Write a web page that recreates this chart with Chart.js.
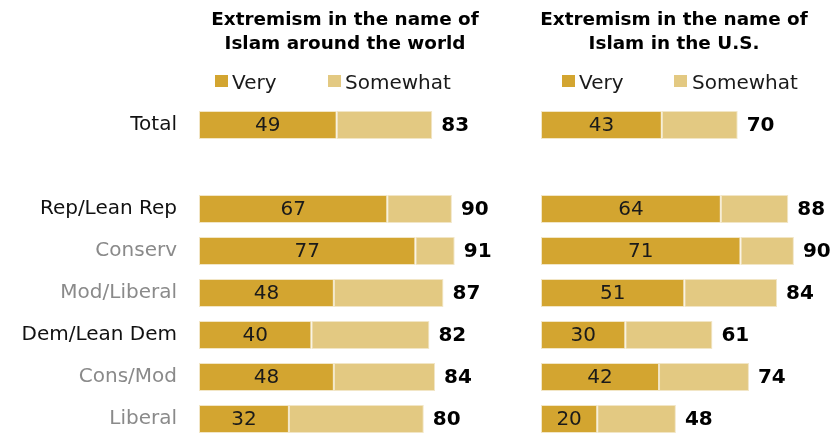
<!DOCTYPE html>
<html>
<head>
<meta charset="utf-8">
<script src="https://cdn.jsdelivr.net/npm/chart.js@4/dist/chart.umd.min.js"></script>
<style>
  html, body { margin: 0; padding: 0; background: #fff; overflow: hidden; }
  body { width: 839px; height: 433px; position: relative; font-family: "DejaVu Sans", sans-serif; }
  .title { position: absolute; top: 7px; width: 340px; margin-left: -170px; text-align: center;
           font: bold 18.4px/24px "DejaVu Sans", sans-serif; color: #000; }
  .sw { position: absolute; top: 75px; width: 13px; height: 12px; }
  .lg { position: absolute; top: 72px; font: 20px/20px "DejaVu Sans", sans-serif; color: #1a1a1a; white-space: nowrap; }
  canvas { position: absolute; top: 0; left: 0; }
</style>
</head>
<body>
<canvas id="world" width="839" height="460"></canvas>
<canvas id="us" width="839" height="460"></canvas>

<div class="title" style="left:345px">Extremism in the name of<br>Islam around the world</div>
<div class="title" style="left:674px">Extremism in the name of<br>Islam in the U.S.</div>

<div class="sw" style="left:215px;background:#D3A530"></div><div class="lg" style="left:232px">Very</div>
<div class="sw" style="left:328px;background:#E3C982"></div><div class="lg" style="left:345px">Somewhat</div>
<div class="sw" style="left:562px;background:#D3A530"></div><div class="lg" style="left:579px">Very</div>
<div class="sw" style="left:674px;background:#E3C982"></div><div class="lg" style="left:692px">Somewhat</div>

<script>
// Groups (blank entry leaves a spacer row under Total)
const categories = ['Total', '', 'Rep/Lean Rep', 'Conserv', 'Mod/Liberal', 'Dem/Lean Dem', 'Cons/Mod', 'Liberal'];
const categoryColors = ['#111', '#111', '#111', '#8a8a8a', '#8a8a8a', '#111', '#8a8a8a', '#8a8a8a'];

// Share concerned about extremism in the name of Islam around the world (%)
const worldVery  = [49, null, 67, 77, 48, 40, 48, 32];
const worldTotal = [83, null, 90, 91, 87, 82, 84, 80];

// Share concerned about extremism in the name of Islam in the U.S. (%)
const usVery  = [43, null, 64, 71, 51, 30, 42, 20];
const usTotal = [70, null, 88, 90, 84, 61, 74, 48];

const VERY_COLOR = '#D3A530';
const SOMEWHAT_COLOR = '#E3C982';
const EDGE_COLOR = '#F2E6C6';
const FONT = '"DejaVu Sans", sans-serif';

// "Somewhat" segment fills the gap between "Very" and the total
function somewhatOf(very, total) {
  return total.map((t, i) => (t == null ? null : t - very[i]));
}

// Draws the "Very" value inside its segment and the bold total past the bar end
const barLabels = {
  id: 'barLabels',
  afterDatasetsDraw(chart, args, opts) {
    const ctx = chart.ctx;
    const xScale = chart.scales.x;
    const veryMeta = chart.getDatasetMeta(0);
    ctx.save();
    ctx.textBaseline = 'middle';
    veryMeta.data.forEach((bar, i) => {
      const v = opts.very[i];
      if (v == null) return;
      ctx.font = '20px ' + FONT;
      ctx.fillStyle = '#1a1a1a';
      ctx.textAlign = 'center';
      ctx.fillText(String(v), (bar.x + bar.base) / 2, bar.y + 1);
      const t = opts.total[i];
      ctx.font = 'bold 20px ' + FONT;
      ctx.fillStyle = '#000';
      ctx.textAlign = 'left';
      ctx.fillText(String(t), xScale.getPixelForValue(t) + 9, bar.y + 1);
    });
    ctx.restore();
  }
};

function makeChart(id, very, total, showCategories, padding) {
  return new Chart(document.getElementById(id), {
    type: 'bar',
    data: {
      labels: categories,
      datasets: [
        { label: 'Very', data: very, backgroundColor: VERY_COLOR },
        { label: 'Somewhat', data: somewhatOf(very, total), backgroundColor: SOMEWHAT_COLOR }
      ]
    },
    options: {
      indexAxis: 'y',
      responsive: false,
      animation: false,
      layout: { padding },
      datasets: {
        bar: {
          categoryPercentage: 1,
          barPercentage: 28 / 42,
          borderWidth: 1,
          borderColor: EDGE_COLOR,
          borderSkipped: false
        }
      },
      scales: {
        x: { stacked: true, min: 0, max: 100, display: false },
        y: {
          stacked: true,
          display: showCategories,
          grid: { display: false, drawTicks: false },
          border: { display: false },
          ticks: {
            padding: 22,
            color: c => categoryColors[c.index],
            font: { family: FONT, size: 20 }
          },
          afterFit(axis) {
            if (!showCategories) return;
            axis.width = 199;
            axis.paddingTop = 0;
            axis.paddingBottom = 0;
          }
        }
      },
      plugins: {
        legend: { display: false },
        tooltip: { enabled: false },
        barLabels: { very, total }
      }
    },
    plugins: [barLabels]
  });
}

// Both canvases span the page; padding places each panel's plot area
makeChart('world', worldVery, worldTotal, true, { top: 104, bottom: 20, left: 0, right: 359 });
makeChart('us', usVery, usTotal, false, { top: 104, bottom: 20, left: 541, right: 17 });
</script>
</body>
</html>
